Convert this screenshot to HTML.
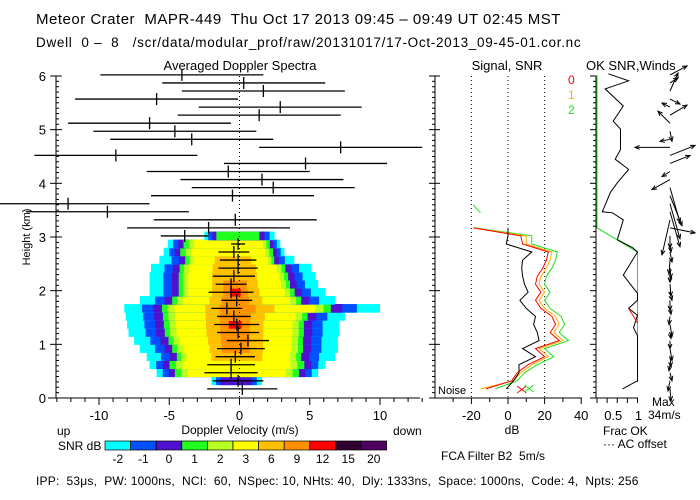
<!DOCTYPE html>
<html><head><meta charset="utf-8"><style>
html,body{margin:0;padding:0;background:#fff;}
svg{display:block;font-family:"Liberation Sans",sans-serif;}
text{white-space:pre;}
</style></head><body>
<svg id="c" width="700" height="500" viewBox="0 0 700 500">
<text x="36" y="24" font-size="15" letter-spacing="0.5">Meteor Crater  MAPR-449  Thu Oct 17 2013 09:45 – 09:49 UT 02:45 MST</text>
<text x="36" y="47" font-size="13.5" letter-spacing="0.7">Dwell  0 –  8   /scr/data/modular_prof/raw/20131017/17-Oct-2013_09-45-01.cor.nc</text>
<text x="240" y="70" font-size="13" text-anchor="middle">Averaged Doppler Spectra</text>
<text x="507" y="70" font-size="13" text-anchor="middle">Signal, SNR</text>
<text x="586" y="70" font-size="13">OK SNR,Winds</text>
<text transform="translate(30,237) rotate(-90)" font-size="11" text-anchor="middle">Height (km)</text>
<text x="240" y="434" font-size="12" text-anchor="middle">Doppler Velocity (m/s)</text>
<text x="57" y="435" font-size="12">up</text>
<text x="393" y="435" font-size="12">down</text>
<text x="58" y="450" font-size="12">SNR dB</text>
<text x="512" y="434" font-size="12" text-anchor="middle">dB</text>
<text x="603" y="435" font-size="12">Frac OK</text>
<text x="603" y="448" font-size="12">··· AC offset</text>
<text x="441" y="460" font-size="12">FCA Filter B2  5m/s</text>
<text x="652" y="406" font-size="12">Max</text>
<text x="648" y="419" font-size="12">34m/s</text>
<text x="438" y="394" font-size="11">Noise</text>
<text x="36" y="485" font-size="12" letter-spacing="0.2">IPP:  53μs,  PW: 1000ns,  NCI:  60,  NSpec: 10, NHts: 40,  Dly: 1333ns,  Space: 1000ns,  Code: 4,  Npts: 256</text>
<text x="568" y="84" font-size="12" fill="#ff0000">0</text>
<text x="568" y="99" font-size="12" fill="#ffb000">1</text>
<text x="568" y="114" font-size="12" fill="#20e020">2</text>
<g id="g"></g>
</svg>
<script>
// ---- data ----
var gateH0 = 0.17, gateDH = 0.15;
var specCenter = [0.2,-0.1,-0.6,-0.6,-0.3,0.1,0.6,-0.1,-0.2,-0.4,-0.9,-0.2,-0.6,-0.6,-0.4,-0.1,-0.1,-0.4,-0.1,-3.9,-2.2,-0.3,-9.4,-12.2,-0.5,2.4,1.6,-0.8,4.7,-8.8,7.2,-3.4,-4.6,-6.4,1.4,2.9,-5.9,1.7,0.3,-4.1];
var specHalfWidth = [2.5,1.8,1.9,1.7,1.4,1.7,1.5,1.5,1.6,1.2,1.1,1.1,1.6,1.1,1.5,1.4,1.3,1.1,0.5,1.7,5.8,5.8,5.8,5.8,5.8,5.8,5.8,5.8,5.8,5.8,5.8,5.8,5.8,5.8,5.8,5.8,5.8,5.8,5.8,5.8];
// heatmap per gate (gate 1..19): cyan extents and peak colour level
var heatGate = [1,2,3,4,5,6,7,8,9,10,11,12,13,14,15,16,17,18,19];
var heatLeft = [-2.0,-5.9,-6.4,-6.6,-7.1,-7.5,-7.9,-8.0,-8.1,-8.2,-7.1,-6.4,-6.4,-6.4,-6.3,-5.7,-5.4,-5.1,-2.5];
var heatRight = [1.6,5.6,6.1,6.8,7.0,7.0,7.1,7.1,7.5,10.0,6.8,6.1,5.6,5.4,5.1,3.9,3.2,2.9,2.5];
var heatPeak = [2,5,5,6,7,7,7,8,7,7,7,8,7,6,6,6,5,5,3];
var colorLabels = ["-2","-1","0","1","2","3","6","9","12","15","20"];
var colorVals = ["#00ffff","#0050ff","#5010d0","#20ff20","#b8ff20","#ffff00","#ffc000","#ff9000","#ff0000","#300030","#500060"];
// signal / SNR profiles (gates 0..20)
var profGates = [0,1,2,3,4,5,6,7,8,9,10,11,12,13,14,15,16,17,18,19,20];
var signalDb = [-1,3,6,6,15,8,17,16,14,15,10,6.5,11,9,8,7.5,8,13,-1,0,0];
var snr0 = [-12,2,5,11,20,15,28,23,26,24,18,15,18,15,16,19,21,22,8,7,-19];
var snr1 = [-15,3,7,13,22,17,30,25,28,26,20,17,20,17,18,21,23,24,10,10,-19];
var snr2 = [-7,5,9,16,25,20,33,28,31,29,23,20,23,20,21,24,26,27,13,13,-18];
var dbTicks = [-20,0,20,40];
// frac ok
var fracH = [6.04,5.91,5.76,5.44,5.16,5.01,4.63,4.45,4.26,4.01,3.83,3.47,3.45,3.32,2.95,2.8,2.72,2.29,1.95,1.82,1.67,1.54,1.31,1.16,0.32,0.17];
var fracV = [0.28,0.78,0.2,0.65,0.4,0.58,0.58,0.45,0.78,0.5,0.33,0.13,0.38,0.65,0.5,0.88,1,0.65,1,1,0.78,1,0.9,1,1,0.63];
var acH = [6.02,3.17,2.72,0.3];
var acV = [0,0,1,1];
// winds (gates 0..39), m/s
var windU = [1,-2,2,-1,1,2,0,1,2,-1,1,0,2,1,0,1,-1,2,1,0,25,-8,10,10,12,10,-18,-8,20,25,-35,-10,2,-12,17,-8,10,8,8,17];
var windV = [-12,-10,-8,-6,-10,-12,-8,-6,-12,-8,-6,-10,-8,-12,-6,-10,-14,-10,-8,-12,-5,-35,-35,-35,-30,-35,-10,-5,8,10,0,-2,-10,12,10,4,-5,18,5,9];
var velTicks = [-10,-5,0,5,10];
var kmTicks = [0,1,2,3,4,5,6];
// ---- axes ----
function X(v){return 239.5+14.05*v;}
function Y(h){return 398-53.67*h;}
function gH(i){return gateH0+gateDH*i;}
function XD(d){return 508+1.83*d;}
function XF(f){return 597+40.5*f;}
var levelFrac=[1,0.84,0.74,0.66,0.61,0.55,0.27,0.14,0.06];
var g=document.getElementById('g'),NS='http://www.w3.org/2000/svg';
function mk(t,a,name){var e=document.createElementNS(NS,t);for(var k in a)e.setAttribute(k,a[k]);


g.appendChild(e);return e;}
function ln(x1,y1,x2,y2,c,name,w,da){var a={x1:x1,y1:y1,x2:x2,y2:y2,stroke:c,'stroke-width':w||1};if(da)a['stroke-dasharray']=da;return mk('line',a,name);}
// heatmap
for(var r=0;r<heatGate.length;r++){
  var yc=Y(gH(heatGate[r])),c=-0.3;
  for(var k=0;k<=heatPeak[r];k++){
    var f=levelFrac[k];
    if(heatPeak[r]<=5&&k>0)f=1-k*(1-0.57)/5*(5/Math.max(heatPeak[r],1))*0.9;
    var l=c+(heatLeft[r]-c)*f,rr=c+(heatRight[r]-c)*f;
    mk('rect',{x:X(l),y:yc-4.3,width:Math.max(0,X(rr)-X(l)),height:8.6,fill:colorVals[k]},'heatmap-cell');
  }
}
// zero line
ln(X(0),76,X(0),398,'#000','zero-velocity-line',1,'1,3');
// spectra bars
for(var i=0;i<specCenter.length;i++){
  var y=Y(gH(i)),x1=Math.max(0,X(specCenter[i]-specHalfWidth[i])),x2=X(specCenter[i]+specHalfWidth[i]);
  ln(x1,y,x2,y,'#000','spectrum-width-bar',1.3);
  ln(X(specCenter[i]),y-6,X(specCenter[i]),y+6,'#000','mean-velocity-tick',1.3);
}
// left axes
ln(56,76,56,398,'#000','y-axis-line');ln(435,76,435,398,'#000','right-axis-line');
ln(48,398,420,398,'#000','x-axis-line');
for(var t=0;t<=60;t++){var yy=Y(t/10),L=(t%10==0)?6:3;ln(56-(t%10==0?6:0),yy,56+L,yy,'#000','y-tick');ln(435-L,yy,435+(t%10==0?5:0),yy,'#000','right-tick');}
kmTicks.forEach(function(v){var e=mk('text',{x:46,y:Y(v)+5,'font-size':13,'text-anchor':'end'},'y-tick-label');e.textContent=v;});
for(var v=-13;v<=13;v++){ln(X(v),398,X(v),v%5==0?405:402,'#000','x-tick');}
velTicks.forEach(function(v){var e=mk('text',{x:X(v),y:420,'font-size':13,'text-anchor':'middle'},'x-tick-label');e.textContent=v;});
// colorbar
for(var k=0;k<colorVals.length;k++){
  var cx=105+k*25.6;
  mk('rect',{x:cx,y:441,width:25.6,height:9,fill:colorVals[k],stroke:'#000','stroke-width':0.7},'colorbar-swatch');
  var e=mk('text',{x:cx+12.8,y:463,'font-size':12,'text-anchor':'middle'},'colorbar-label');e.textContent=colorLabels[k];
}
// signal panel
ln(440,398,582,398,'#000','db-axis-line');
dbTicks.slice(0,3).forEach(function(d){ln(XD(d),76,XD(d),398,'#000','db-gridline',1,'1,3');});
for(var d=-30;d<=40;d+=10){ln(XD(d),398,XD(d),d%20==0?404:402,'#000','db-tick');}
dbTicks.forEach(function(d){var e=mk('text',{x:XD(d),y:420,'font-size':13,'text-anchor':'middle'},'db-tick-label');e.textContent=d;});
function prof(arr,col,name){var p='';for(var i=0;i<profGates.length;i++){p+=(i?'L':'M')+XD(arr[i]).toFixed(1)+','+Y(gH(profGates[i])).toFixed(1);}mk('path',{d:p,fill:'none',stroke:col,'stroke-width':1},name);}
prof(snr2,'#20e020','snr-line-2');prof(snr1,'#ffb000','snr-line-1');prof(snr0,'#ff0000','snr-line-0');prof(signalDb,'#000','signal-line');
ln(XD(-19),Y(3.6),XD(-15),Y(3.45),'#20e020','snr-fragment');
ln(XD(5),393,XD(10),386,'#ff0000','noise-marker-0');ln(XD(5),386,XD(10),393,'#ff0000','noise-marker-0');
ln(XD(9),392,XD(14),385,'#20e020','noise-marker-2');ln(XD(9),385,XD(14),392,'#20e020','noise-marker-2');
// frac ok panel
ln(596,76,596,398,'#000','frac-axis-line');ln(596,398,638,398,'#000','frac-x-axis');
for(var t=0;t<=60;t++){var yy=Y(t/10);ln(t%10==0?590:593,yy,596,yy,'#000','frac-y-tick');}
[0,0.25,0.5,0.75,1].forEach(function(f){ln(XF(f),398,XF(f),403,'#000','frac-tick');});
[[0.5,'0.5'],[1,'1']].forEach(function(a){var e=mk('text',{x:XF(a[0])-(a[0]==1?-1:4),y:420,'font-size':13,'text-anchor':'middle'},'frac-tick-label');e.textContent=a[1];});
var p='';for(var i=0;i<acH.length;i++)p+=(i?'L':'M')+XF(acV[i])+','+Y(acH[i]);
mk('path',{d:p,fill:'none',stroke:'#20e020'},'ac-offset-line');
p='';for(var i=0;i<fracH.length;i++)p+=(i?'L':'M')+XF(fracV[i]).toFixed(1)+','+Y(fracH[i]).toFixed(1);
mk('path',{d:p,fill:'none',stroke:'#000'},'frac-ok-line');
ln(XF(0.78),Y(1.67),XF(1),Y(1.4),'#ff0000','frac-ok-red');
// winds
for(var i=0;i<windU.length;i++){
  var x0=670,y0=Y(gH(i)),x1=x0+windU[i],y1=y0-windV[i];
  ln(x0,y0,x1,y1,'#000','wind-arrow');
  var a=Math.atan2(y1-y0,x1-x0),s=5;
  mk('path',{d:'M'+(x1-s*Math.cos(a-0.4))+','+(y1-s*Math.sin(a-0.4))+'L'+x1+','+y1+'L'+(x1-s*Math.cos(a+0.4))+','+(y1-s*Math.sin(a+0.4)),fill:'none',stroke:'#000'},'wind-arrow-head');
}
</script>
</body></html>
